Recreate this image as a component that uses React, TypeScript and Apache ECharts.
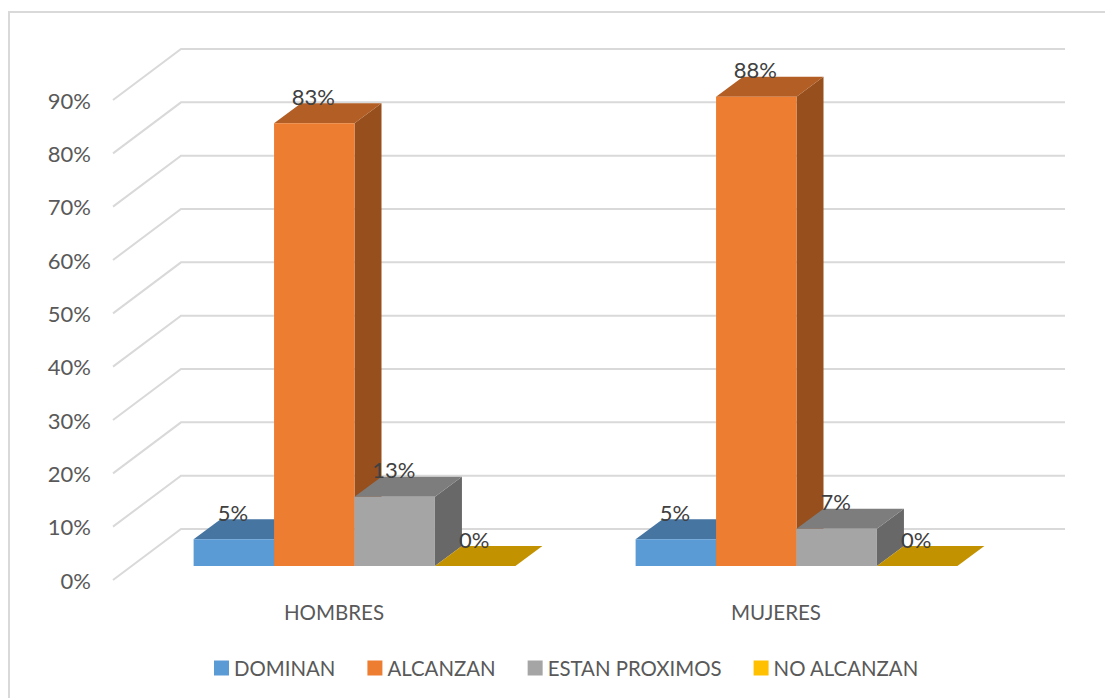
import React, { useEffect, useRef } from "react";
import * as echarts from "echarts";

const categories = ["HOMBRES", "MUJERES"];
const dominan = [5, 5];
const alcanzan = [83, 88];
const estanProximos = [13, 7];
const noAlcanzan = [0, 0];
const tickValues = [0, 10, 20, 30, 40, 50, 60, 70, 80, 90];

const seriesNames = ["DOMINAN", "ALCANZAN", "ESTAN PROXIMOS", "NO ALCANZAN"];
const seriesValues = [dominan, alcanzan, estanProximos, noAlcanzan];
const frontColors = ["#5B9BD5", "#ED7D31", "#A5A5A5", "#FFC000"];
const topColors = ["#4675A2", "#B25E25", "#7D7D7D", "#C29200"];
const sideColors = ["#38608A", "#964F1D", "#686868", "#A07800"];

const FONT = "Lato";
const WALL_DX = 68;
const WALL_DY = 51;
const DEPTH_DX = 27;
const DEPTH_DY = 20;
const FRONT_DX = 20.5;
const FRONT_DY = 14;
const GROUP_SHARE = 0.182;

export default function App() {
  const ref = useRef<HTMLDivElement>(null);
  useEffect(() => {
    document.body.style.margin = "0";
    const chart = echarts.init(ref.current!, null, { renderer: "svg" });

    const wallSeries = {
      type: "custom",
      name: "walls",
      silent: true,
      clip: false,
      z: 1,
      data: tickValues.map((v) => [0, v]),
      renderItem: (params: any, api: any) => {
        const cs = params.coordSys;
        const y = api.coord([0, api.value(1)])[1];
        return {
          type: "polyline",
          shape: {
            points: [
              [cs.x, y],
              [cs.x + WALL_DX, y - WALL_DY],
              [cs.x + cs.width + WALL_DX, y - WALL_DY],
            ],
          },
          style: { fill: "none", stroke: "#D9D9D9", lineWidth: 2 },
        };
      },
    };

    const barSeries = seriesNames.map((name, s) => ({
      type: "custom",
      name,
      silent: true,
      clip: false,
      z: 2 + s,
      itemStyle: { color: frontColors[s] },
      data: seriesValues[s].map((v, c) => [c, v]),
      renderItem: (_params: any, api: any) => {
        const cat = api.value(0);
        const val = api.value(1);
        const band = api.size([1, 0])[0];
        const bw = band * GROUP_SHARE;
        const x0 = api.coord([cat, 0])[0] + FRONT_DX + (s - 2) * bw;
        const x1 = x0 + bw;
        const yb = api.coord([cat, 0])[1] - FRONT_DY;
        const yt = api.coord([cat, val])[1] - FRONT_DY;
        const dx = DEPTH_DX;
        const dy = DEPTH_DY;
        return {
          type: "group",
          children: [
            {
              type: "polygon",
              shape: { points: [[x1, yt], [x1 + dx, yt - dy], [x1 + dx, yb - dy], [x1, yb]] },
              style: { fill: sideColors[s] },
            },
            {
              type: "polygon",
              shape: { points: [[x0, yt], [x0 + dx, yt - dy], [x1 + dx, yt - dy], [x1, yt]] },
              style: { fill: topColors[s] },
            },
            {
              type: "rect",
              shape: { x: x0, y: yt, width: bw, height: yb - yt },
              style: { fill: frontColors[s] },
            },
            {
              type: "text",
              z2: 50,
              style: {
                text: `${val}%`,
                x: (x0 + x1) / 2 - 1,
                y: yt - dy - 7,
                align: "center",
                verticalAlign: "middle",
                fill: "#404040",
                font: `22px ${FONT}`,
              },
            },
          ],
        };
      },
    }));

    chart.setOption({
      animation: false,
      backgroundColor: "#fff",
      grid: { left: 113, right: 108, top: 100, bottom: 118, containLabel: false },
      xAxis: {
        type: "category",
        data: categories,
        axisLine: { show: false },
        axisTick: { show: false },
        splitLine: { show: false },
        axisLabel: { color: "#595959", fontFamily: FONT, fontSize: 20.5, margin: 21 },
      },
      yAxis: {
        type: "value",
        min: 0,
        max: 90,
        interval: 10,
        axisLine: { show: false },
        axisTick: { show: false },
        splitLine: { show: false },
        axisLabel: {
          color: "#595959",
          fontFamily: FONT,
          fontSize: 22,
          margin: 22,
          formatter: "{value}%",
        },
      },
      legend: {
        data: seriesNames.map((name) => ({ name, icon: "rect" })),
        left: 214,
        top: 658,
        padding: 0,
        itemWidth: 15,
        itemHeight: 15,
        itemGap: 32,
        selectedMode: false,
        textStyle: { color: "#595959", fontFamily: FONT, fontSize: 20.4 },
      },
      graphic: [
        {
          type: "polyline",
          silent: true,
          shape: { points: [[9, 698], [9, 12], [1105, 12]] },
          style: { fill: "none", stroke: "#D9D9D9", lineWidth: 2 },
        },
      ],
      series: [wallSeries, ...barSeries],
    });
    return () => chart.dispose();
  }, []);
  return <div ref={ref} style={{ width: 1105, height: 698 }} />;
}
